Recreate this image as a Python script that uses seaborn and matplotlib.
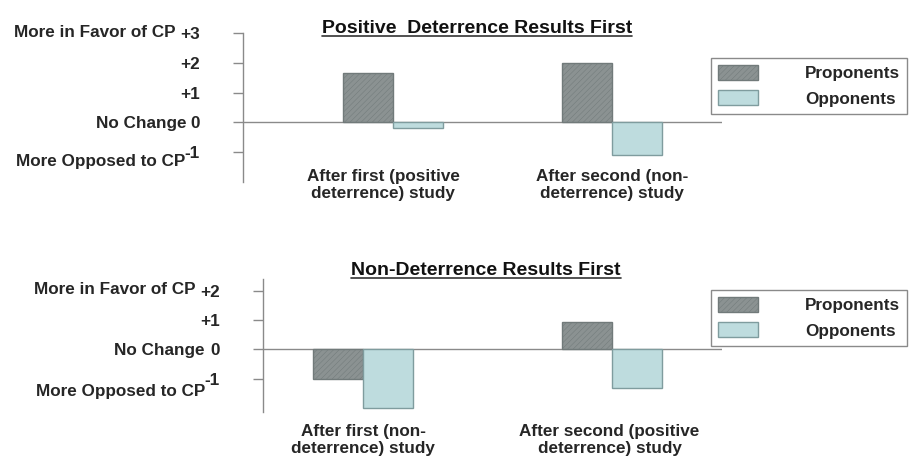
import matplotlib
matplotlib.use("Agg")
import matplotlib.pyplot as plt
from matplotlib.lines import Line2D
from matplotlib.transforms import blended_transform_factory
import seaborn as sns
import pandas as pd

# ---------------- data ----------------
groups = ["Proponents", "Opponents"]
top_title = "Positive  Deterrence Results First"
top_categories = ["After first (positive\ndeterrence) study", "After second (non-\ndeterrence) study"]
top_proponents = [1.65, 2.0]
top_opponents = [-0.2, -1.1]

bottom_title = "Non-Deterrence Results First"
bottom_categories = ["After first (non-\ndeterrence) study", "After second (positive\ndeterrence) study"]
bottom_proponents = [-1.0, 0.95]
bottom_opponents = [-2.0, -1.3]

top_ticks = [3, 2, 1, 0, -1]
top_ticklabels = ["+3", "+2", "+1", "0", "-1"]
bottom_ticks = [2, 1, 0, -1]
bottom_ticklabels = ["+2", "+1", "0", "-1"]
side_labels = ["More in Favor of CP", "No Change", "More Opposed to CP"]

# ---------------- style ----------------
sns.set_theme(style="white")
plt.rcParams["font.family"] = ["Liberation Sans", "DejaVu Sans"]
plt.rcParams["font.weight"] = "bold"
plt.rcParams["hatch.linewidth"] = 0.35

W, H = 916, 466
fig = plt.figure(figsize=(W / 100, H / 100), dpi=100)

def fx(px):
    return px / W

def fy(py):
    return 1 - py / H

pro_fill, pro_edge = "#8a9393", "#717a7a"
opp_fill, opp_edge = "#b9e0e3", "#7f9c9e"
axis_col = "#8a8a8a"
FS = 12.3


def make_df(categories, pro, opp):
    rows = []
    for c, p, o in zip(categories, pro, opp):
        rows.append({"study": c, "group": groups[0], "change": p})
        rows.append({"study": c, "group": groups[1], "change": o})
    return pd.DataFrame(rows)


def panel(rect, categories, pro, opp, ylim, xlim, width, ticks, ticklabels):
    ax = fig.add_axes(rect)
    df = make_df(categories, pro, opp)
    sns.barplot(data=df, x="study", y="change", hue="group", order=categories,
                hue_order=groups, palette=[pro_fill, opp_fill], width=width,
                errorbar=None, legend=False, ax=ax, zorder=3)
    for bar in ax.containers[0]:
        bar.set_edgecolor(pro_edge)
        bar.set_hatch("//////")
        bar.set_linewidth(1.0)
    for bar in ax.containers[1]:
        bar.set_edgecolor(opp_edge)
        bar.set_linewidth(1.0)
    ax.axhline(0, color=axis_col, lw=1.0, zorder=2)
    for s in ["top", "right", "bottom"]:
        ax.spines[s].set_visible(False)
    ax.spines["left"].set_color(axis_col)
    ax.spines["left"].set_linewidth(1.0)
    ax.set_ylim(*ylim)
    ax.set_xlim(*xlim)
    ax.set_xticks([])
    ax.set_xlabel("")
    ax.set_ylabel("")
    ax.set_yticks(ticks)
    ax.set_yticklabels(ticklabels, fontsize=FS, fontweight="bold")
    ax.tick_params(axis="y", left=True, length=7, width=1.0, color=axis_col,
                   direction="out", pad=24)
    ax.patch.set_alpha(0)
    return ax


def add_legend(ax, left_px, top_px):
    leg = fig.legend(handles=[ax.containers[0], ax.containers[1]], labels=groups,
                     loc="upper left", bbox_to_anchor=(fx(left_px), fy(top_px)),
                     bbox_transform=fig.transFigure, frameon=True, fancybox=False,
                     edgecolor=axis_col, framealpha=1, borderaxespad=0,
                     borderpad=0.4, handlelength=2.35, handleheight=0.95,
                     handletextpad=2.75, labelspacing=0.55,
                     prop={"size": FS, "weight": "bold"})
    leg.get_frame().set_linewidth(1.0)
    return leg


def underlined_title(text, cx_px, base_px):
    t = fig.text(fx(cx_px), fy(base_px), text, ha="center", va="baseline",
                 fontsize=14, fontweight="bold", color="#111111")
    return t


# ---------------- top panel ----------------
ax1 = panel([fx(243), fy(182), fx(722) - fx(243), (182 - 33) / H],
            top_categories, top_proponents, top_opponents,
            ylim=(-2, 3), xlim=(-0.685, 1.502), width=0.457,
            ticks=top_ticks, ticklabels=top_ticklabels)
add_legend(ax1, 711, 58)
t1 = underlined_title(top_title, 477, 33)

# ---------------- bottom panel ----------------
ax2 = panel([fx(263), fy(412), fx(722) - fx(263), (412 - 279) / H],
            bottom_categories, bottom_proponents, bottom_opponents,
            ylim=(-2.13, 2.4), xlim=(-0.402, 1.442), width=0.40,
            ticks=bottom_ticks, ticklabels=bottom_ticklabels)
add_legend(ax2, 711, 290)
t2 = underlined_title(bottom_title, 486, 275)

# side descriptions of the y scale
for (label, rx, by) in zip(side_labels, [176, 186, 185], [37, 128, 166]):
    fig.text(fx(rx), fy(by), label, ha="right", va="baseline", fontsize=FS, fontweight="bold")
for (label, rx, by) in zip(side_labels, [195, 205, 205], [294, 355, 396]):
    fig.text(fx(rx), fy(by), label, ha="right", va="baseline", fontsize=FS, fontweight="bold")

# category labels under each group
for ax, cats, ycen, offs in [(ax1, top_categories, 185, [-0.045, 0.0]),
                             (ax2, bottom_categories, 440, [0.0, -0.01])]:
    tr = blended_transform_factory(ax.transData, fig.transFigure)
    for i, c in enumerate(cats):
        ax.text(i + offs[i], fy(ycen), c, transform=tr, ha="center", va="center",
                fontsize=FS, fontweight="bold", linespacing=1.15, clip_on=False)

# underline titles
fig.canvas.draw()
renderer = fig.canvas.get_renderer()
for t in (t1, t2):
    bb = t.get_window_extent(renderer)
    y = bb.y0 + 1.5
    fig.add_artist(Line2D([bb.x0 / W, bb.x1 / W], [y / H, y / H],
                          transform=fig.transFigure, color="#333333", lw=1.2))

fig.savefig("out.png", dpi=100)
